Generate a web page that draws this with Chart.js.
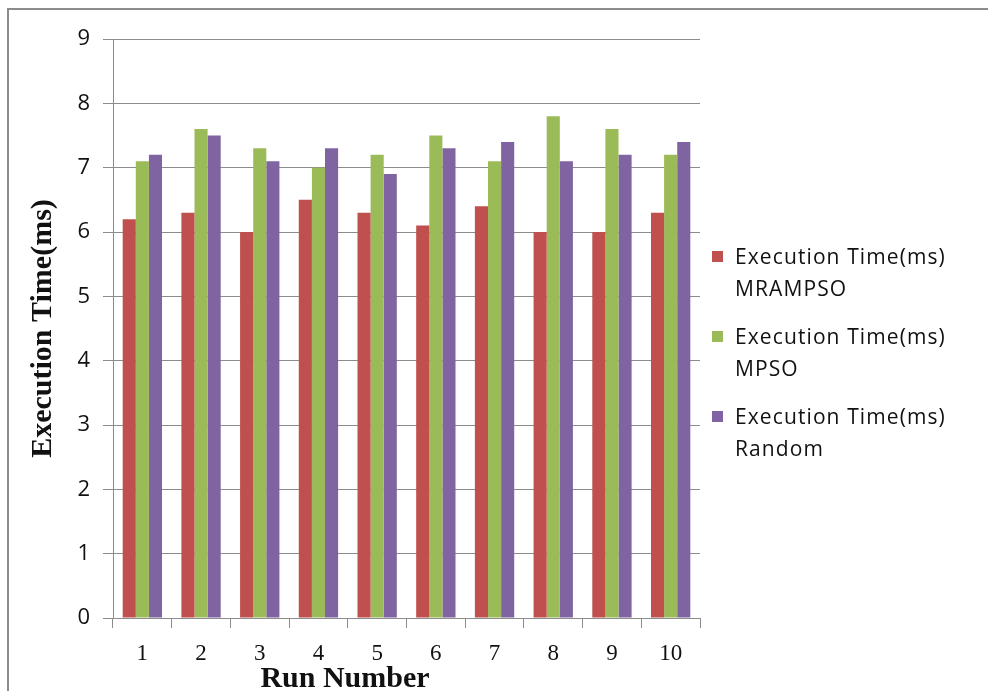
<!DOCTYPE html>
<html>
<head>
<meta charset="utf-8">
<script src="https://cdn.jsdelivr.net/npm/chart.js@4.4.0/dist/chart.umd.min.js"></script>
<style>
  body { margin: 0; background: #fff; }
  #wrap { position: relative; width: 988px; height: 691px; overflow: hidden; }
  #frame { position: absolute; left: 7px; top: 8px; width: 1000px; height: 700px; border: 2px solid #8c8c8c; box-sizing: border-box; }
  #legend { position: absolute; left: 712px; top: 240px; font-family: "Open Sans", sans-serif; font-size: 21px; letter-spacing: 1.1px; color: #111; }
  .item { position: relative; padding-left: 23px; line-height: 32px; margin-bottom: 16px; }
  .box { position: absolute; left: 0; top: 11px; width: 11px; height: 11px; }
  #xtitle { position: absolute; left: 245px; width: 200px; top: 662px; text-align: center; font-family: "Liberation Serif", serif; font-weight: bold; font-size: 30px; line-height: 30px; color: #111; }
</style>
</head>
<body>
<div id="wrap">
  <div id="frame"></div>
  <canvas id="chart" width="988" height="691"></canvas>
  <div id="legend"></div>
  <div id="xtitle">Run Number</div>
</div>
<script>
// chart data
const run_labels = ["1", "2", "3", "4", "5", "6", "7", "8", "9", "10"];
const series_names = ["Execution Time(ms) MRAMPSO", "Execution Time(ms) MPSO", "Execution Time(ms) Random"];
const mrampso_values = [6.2, 6.3, 6.0, 6.5, 6.3, 6.1, 6.4, 6.0, 6.0, 6.3];
const mpso_values = [7.1, 7.6, 7.3, 7.0, 7.2, 7.5, 7.1, 7.8, 7.6, 7.2];
const random_values = [7.2, 7.5, 7.1, 7.3, 6.9, 7.3, 7.4, 7.1, 7.2, 7.4];
const series_colors = ["#C0504D", "#9BBB59", "#8064A2"];

const all_values = [mrampso_values, mpso_values, random_values];
const datasets = all_values.map((vals, i) => ({
  label: series_names[i],
  data: vals,
  backgroundColor: series_colors[i],
  borderWidth: 0,
  barPercentage: 1.0,
  categoryPercentage: 0.67,
}));

const ctx = document.getElementById("chart").getContext("2d");
const myChart = new Chart(ctx, {
  type: "bar",
  data: { labels: run_labels, datasets: datasets },
  options: {
    responsive: false,
    animation: false,
    layout: { padding: { left: 0, right: 288, top: 39, bottom: 0 } },
    plugins: { legend: { display: false }, tooltip: { enabled: false } },
    scales: {
      x: {
        grid: { offset: true, drawOnChartArea: false, color: "#8c8c8c", tickLength: 10 },
        border: { color: "#8c8c8c" },
        ticks: { color: "#111", font: { family: "Liberation Serif", size: 23 }, padding: 12 },
        // x title is an html div (it sits left of the chart centre in the original)
        title: { display: false },
        afterFit: (scale) => { scale.height = 73; },
      },
      y: {
        min: 0, max: 9,
        grid: { color: "#8c8c8c", tickLength: 10 },
        border: { color: "#8c8c8c" },
        ticks: { stepSize: 1, color: "#111", font: { family: "Open Sans", size: 22 }, padding: 13 },
        title: { display: true, text: "Execution Time(ms)", color: "#111", font: { family: "Liberation Serif", size: 30, weight: "bold", lineHeight: 1.0 }, padding: { top: 28, bottom: 0 } },
        afterFit: (scale) => { scale.width = 113; },
      },
    },
  },
});

// HTML legend with two-line labels
const legend_div = document.getElementById("legend");
datasets.forEach((ds) => {
  const parts = ds.label.split(" ");
  const last = parts.pop();
  const item = document.createElement("div");
  item.className = "item";
  item.innerHTML = `<span class="box" style="background:${ds.backgroundColor}"></span>${parts.join(" ")}<br>${last}`;
  legend_div.appendChild(item);
});
</script>
</body>
</html>
